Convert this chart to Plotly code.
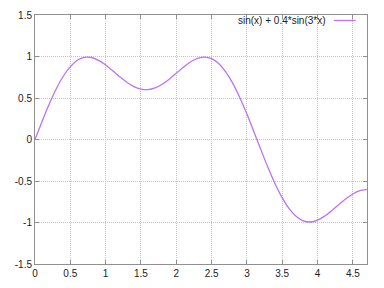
import plotly.graph_objects as go

x_vals = [0.0, 0.1, 0.2, 0.3, 0.4, 0.5, 0.6, 0.7, 0.8, 0.9, 1.0, 1.1, 1.2, 1.3, 1.4, 1.5,
          1.6, 1.7, 1.8, 1.9, 2.0, 2.1, 2.2, 2.3, 2.4, 2.5, 2.6, 2.7, 2.8, 2.9, 3.0, 3.1,
          3.2, 3.3, 3.4, 3.5, 3.6, 3.7, 3.8, 3.9, 4.0, 4.1, 4.2, 4.3, 4.4, 4.5, 4.6, 4.7]
y_vals = [0.000, 0.218, 0.425, 0.609, 0.762, 0.878, 0.954, 0.990, 0.988, 0.954, 0.898,
          0.828, 0.755, 0.689, 0.637, 0.607, 0.601, 0.621, 0.665, 0.726, 0.798, 0.870,
          0.933, 0.977, 0.993, 0.974, 0.915, 0.815, 0.677, 0.504, 0.306, 0.091, -0.128,
          -0.341, -0.536, -0.703, -0.835, -0.928, -0.980, -0.994, -0.971, -0.923, -0.858,
          -0.785, -0.715, -0.656, -0.616, -0.600]
series_name = "sin(x) + 0.4*sin(3*x)"
x_ticks = [0, 0.5, 1, 1.5, 2, 2.5, 3, 3.5, 4, 4.5]
y_ticks = [-1.5, -1, -0.5, 0, 0.5, 1, 1.5]

line_color = "#bd72f0"
font = dict(family="Liberation Sans, Arial, sans-serif", size=10, color="#222222")

fig = go.Figure()
fig.add_trace(go.Scatter(x=x_vals, y=y_vals, mode="lines", name=series_name,
                         line=dict(color=line_color, width=1.3, shape="spline", smoothing=0.6),
                         showlegend=False))

axis_common = dict(showline=True, mirror="ticks", linecolor="#909090", linewidth=1,
                   showgrid=True, gridcolor="#c4c4c4", griddash="1px,1px", gridwidth=1,
                   ticks="inside", ticklen=4, tickcolor="#909090", zeroline=False,
                   tickfont=font)
fig.update_xaxes(range=[0, 4.7], tickvals=x_ticks, ticktext=[str(v) for v in x_ticks], **axis_common)
fig.update_yaxes(range=[-1.5, 1.5], tickvals=y_ticks, ticktext=[str(v) for v in y_ticks], **axis_common)

fig.add_annotation(xref="paper", yref="paper", x=0.884, y=0.978, xanchor="right", yanchor="middle",
                   text=series_name, showarrow=False, font=font)
fig.add_shape(type="line", xref="paper", yref="paper", x0=0.9, x1=0.966, y0=0.978, y1=0.978,
              line=dict(color=line_color, width=1.3))

fig.update_layout(width=384, height=288, margin=dict(l=35, r=17, t=9, b=19),
                  paper_bgcolor="white", plot_bgcolor="white", font=font)
fig.write_html("out.html")
